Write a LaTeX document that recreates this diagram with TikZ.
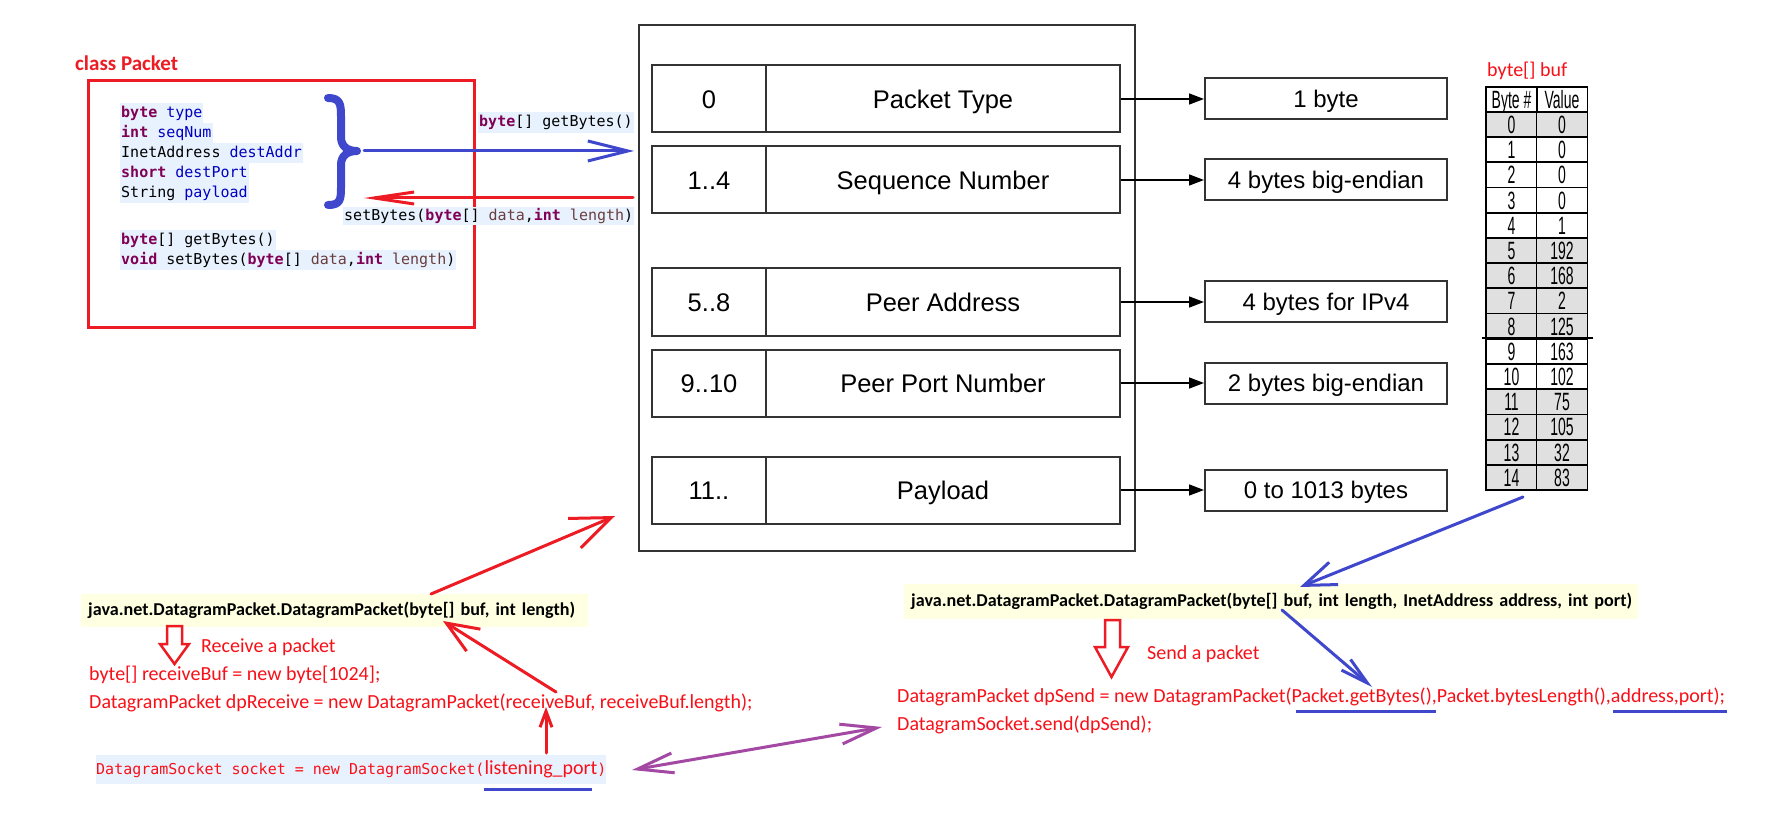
\documentclass[tikz,border=0pt]{standalone}
\usepackage{fontspec}
\setmainfont{Carlito}
\newfontfamily\helv{Liberation Sans}
\newfontfamily\narrowhelv[FakeStretch=0.56]{Liberation Sans}
\newfontfamily\codemono{DejaVu Sans Mono}
\usetikzlibrary{arrows.meta}
\definecolor{codebg}{RGB}{232,242,254}
\definecolor{kwc}{HTML}{7F0055}
\definecolor{fldc}{HTML}{0000C0}
\definecolor{prmc}{HTML}{6A3E3E}
\definecolor{paintred}{HTML}{ED1C24}
\definecolor{txtred}{HTML}{F81018}
\definecolor{bluep}{HTML}{3F48CC}
\definecolor{purp}{HTML}{A349A4}
\definecolor{ttbg}{RGB}{255,255,225}
\definecolor{boxgray}{HTML}{333333}
\definecolor{tgray}{HTML}{E0E0E0}
\newcommand\jkw[1]{{\bfseries\color{kwc}#1}}
\newcommand\jfld[1]{\textcolor{fldc}{#1}}
\newcommand\jprm[1]{\textcolor{prmc}{#1}}
\begin{document}
\begin{tikzpicture}[x=1pt,y=-1pt,
  code/.style={anchor=west, fill=codebg, inner xsep=1pt, inner ysep=0pt, minimum height=20pt, text height=12pt, text depth=3pt, font=\codemono\fontsize{15}{18}\selectfont},
  redtxt/.style={anchor=base west, inner sep=0pt, text=txtred, font=\fontsize{20}{24}\selectfont},
  jbox/.style={fill=ttbg, inner xsep=7pt, inner ysep=0pt, anchor=west, align=left, font=\bfseries\fontsize{18.1}{21}\selectfont},
  pcell/.style={draw=boxgray, line width=2pt, minimum height=67pt, inner sep=0pt, text height=18.3pt, text depth=0pt, font=\helv\fontsize{25.5}{28}\selectfont},
  rbox/.style={draw=boxgray, line width=2pt, minimum width=242pt, minimum height=41pt, inner sep=0pt, text height=17.2pt, text depth=0pt, font=\helv\fontsize{24}{26}\selectfont},
  tcell/.style={draw=black, line width=1.8pt, minimum width=51pt, minimum height=25.2pt, inner sep=0pt, text height=17.9pt, text depth=0pt, font=\narrowhelv\fontsize{25}{27}\selectfont},
  blackarrow/.style={draw=black, line width=1.5pt, -{Triangle[length=15pt,width=11pt]}},
  paint/.style={line width=3pt, line cap=round, line join=round},
  blockarrow/.style={draw=paintred, line width=2.5pt, fill=white, line join=miter}
]
\useasboundingbox[fill=white] (0,0) rectangle (1767,826);

% ---------- class Packet ----------
\node[anchor=base west, inner sep=0pt, text=paintred, font=\bfseries\fontsize{21}{24}\selectfont] (clsTitle) at (75,71) {class Packet};
\node[draw=paintred, line width=3pt, minimum width=386pt, minimum height=247pt, anchor=north west] (cls) at (86.5,79.5) {};
\node[code] (l1) at (120,113) {\jkw{byte} \jfld{type}};
\node[code] (l2) at (120,133) {\jkw{int} \jfld{seqNum}};
\node[code] (l3) at (120,153) {InetAddress \jfld{destAddr}};
\node[code] (l4) at (120,173) {\jkw{short} \jfld{destPort}};
\node[code] (l5) at (120,193) {String \jfld{payload}};
\node[code] (l6) at (120,240) {\jkw{byte}[] getBytes()};
\node[code] (l7) at (120,260) {\jkw{void} setBytes(\jkw{byte}[] \jprm{data},\jkw{int} \jprm{length})};

% brace
\draw[bluep, line width=8pt, line cap=round, line join=round]
  (328,98) .. controls (340,98) and (341,104) .. (341,116) -- (341,137)
  .. controls (341,146) and (347,151) .. (357,151)
  .. controls (347,151) and (341,156) .. (341,165) -- (341,188)
  .. controls (341,200) and (340,205) .. (328,205);
\coordinate (bracetip) at (364,151);

% ---------- packet structure ----------
\node[draw=boxgray, line width=2pt, minimum width=496pt, minimum height=526pt, anchor=north west] (outer) at (638,24) {};
\node[pcell, minimum width=114pt] (n1) at (709,99) {0};
\node[pcell, minimum width=354pt] (f1) at (943,99) {Packet Type};
\node[pcell, minimum width=114pt] (n2) at (709,180) {1..4};
\node[pcell, minimum width=354pt] (f2) at (943,180) {Sequence Number};
\node[pcell, minimum width=114pt] (n3) at (709,302) {5..8};
\node[pcell, minimum width=354pt] (f3) at (943,302) {Peer Address};
\node[pcell, minimum width=114pt] (n4) at (709,383) {9..10};
\node[pcell, minimum width=354pt] (f4) at (943,383) {Peer Port Number};
\node[pcell, minimum width=114pt] (n5) at (709,490) {11..};
\node[pcell, minimum width=354pt] (f5) at (943,490) {Payload};

\node[rbox] (r1) at (1326,99) {1 byte};
\node[rbox] (r2) at (1326,180) {4 bytes big-endian};
\node[rbox] (r3) at (1326,302) {4 bytes for IPv4};
\node[rbox] (r4) at (1326,383) {2 bytes big-endian};
\node[rbox] (r5) at (1326,490) {0 to 1013 bytes};
\foreach \k in {1,...,5} {\draw[blackarrow] (f\k.east) -- (r\k.west);}

% getBytes / setBytes arrows
\coordinate (gbTip) at (bracetip -| outer.west);
\draw[paint, bluep, -{Straight Barb[length=40pt,width=20pt]}] (bracetip) -- ([xshift=-4pt]gbTip);
\node[code, minimum height=21pt] (gbLabel) at (478,122.5) {\jkw{byte}[] getBytes()};
\coordinate (sbStart) at (633,198);
\coordinate (sbEnd) at (364,198);
\draw[paint, paintred, -{Straight Barb[length=40pt,width=12pt]}] (sbStart) -- (sbEnd);
\node[code, minimum height=18pt] (sbLabel) at (343,216.5) {setBytes(\jkw{byte}[] \jprm{data},\jkw{int} \jprm{length})};

% ---------- byte[] buf table ----------
\node[anchor=base west, inner sep=0pt, text=txtred, font=\fontsize{20}{24}\selectfont] (bufLabel) at (1487,76.5) {byte[] buf};
\node[tcell] (bnh) at (1511.5,99.6) {Byte \#};
\node[tcell] (bvh) at (1562,99.6) {Value};
\foreach \i/\v/\f in {0/0/tgray,1/0/white,2/0/white,3/0/white,4/1/white,5/192/tgray,6/168/tgray,7/2/tgray,8/125/tgray,9/163/white,10/102/white,11/75/tgray,12/105/tgray,13/32/tgray,14/83/tgray} {
  \node[tcell, fill=\f] (bn\i) at (1511.5,{124.6+25.2*\i}) {\i};
  \node[tcell, fill=\f] (bv\i) at (1562,{124.6+25.2*\i}) {\v};
}
\draw[line width=2.5pt] ([xshift=-3pt]bn9.north west) -- ([xshift=5pt]bv9.north east);

% ---------- receive side ----------
\node[jbox, text width=493pt, minimum height=33pt] (jl) at (81,610.5) {\mbox{java.net.DatagramPacket.DatagramPacket(byte[] buf, int length)}};
\draw[blockarrow] (167,626) -- (182,626) -- (182,644) -- (189,644) -- (174.5,664) -- (160,644) -- (167,644) -- cycle;
\node[redtxt] (recvLabel) at (201,652.5) {Receive a packet};
\node[redtxt] (rb) at (89,680) {byte[] receiveBuf = new byte[1024];};
\node[redtxt] (rd) at (89,708.5) {DatagramPacket dpReceive = new DatagramPacket(receiveBuf, receiveBuf.length);};
\node[anchor=west, fill=codebg, inner xsep=0pt, inner ysep=0pt, minimum height=29pt, text=txtred] (sock) at (96,769)
  {{\codemono\fontsize{15}{18}\selectfont DatagramSocket socket = new DatagramSocket(}{\fontsize{20}{24}\selectfont listening\_port}{\codemono\fontsize{15}{18}\selectfont )}};
\draw[bluep, line width=3pt] (484,789) -- (592,789);

\coordinate (jlTail) at (431,594);
\coordinate (outerHit) at (615,516);
\draw[paint, paintred, -{Straight Barb[length=40pt,width=32pt]}] (jlTail) -- (outerHit);
\coordinate (rdTail) at (556,692);
\coordinate (jlHit) at (443,621);
\draw[paint, paintred, -{Straight Barb[length=32pt,width=26pt]}] (rdTail) -- (jlHit);
\coordinate (sockTail) at (546,753);
\coordinate (rdHit) at (546,707);
\draw[paint, paintred, -{Straight Barb[length=16pt,width=12pt]}] (sockTail) -- (rdHit);

% ---------- send side ----------
\node[jbox, text width=720pt, minimum height=35pt] (jr) at (904,601.5) {\mbox{java.net.DatagramPacket.DatagramPacket(byte[] buf, int length, InetAddress address, int port)}};
\draw[blockarrow] (1105,620) -- (1120,620) -- (1120,647) -- (1128,647) -- (1111.5,677) -- (1095,647) -- (1105,647) -- cycle;
\node[redtxt] (sendLabel) at (1147,659.5) {Send a packet};
\node[redtxt] (sd) at (897,702) {DatagramPacket dpSend = new DatagramPacket(Packet.getBytes(),Packet.bytesLength(),address,port);};
\node[redtxt] (ss) at (897,730.5) {DatagramSocket.send(dpSend);};
\draw[bluep, line width=3pt] (1296,711) -- (1436,711);
\draw[bluep, line width=3pt] (1613,711) -- (1727,711);

\coordinate (tblTail) at (1523,497);
\coordinate (jrHit) at (1300,587);
\draw[paint, bluep, -{Straight Barb[length=32pt,width=24pt]}] (tblTail) -- (jrHit);
\coordinate (jrTail) at (1282,610);
\coordinate (sdHit) at (1372,687);
\draw[paint, bluep, -{Straight Barb[length=28pt,width=14pt]}] (jrTail) -- (sdHit);

\coordinate (sockEnd) at (632,770);
\coordinate (ssEnd) at (882,727);
\draw[paint, purp, {Straight Barb[length=36pt,width=20pt]}-{Straight Barb[length=36pt,width=20pt]}] (sockEnd) -- (ssEnd);
\end{tikzpicture}
\end{document}
